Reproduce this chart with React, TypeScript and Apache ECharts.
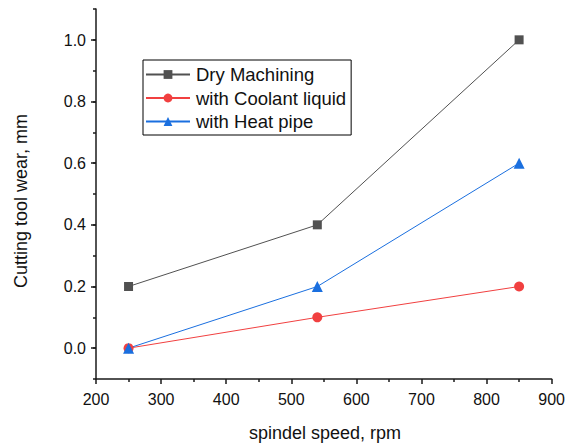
import React, { useEffect, useRef } from "react";
import * as echarts from "echarts";

const speeds = [250, 540, 850];
const dryMachining = [0.2, 0.4, 1.0];
const coolantLiquid = [0.0, 0.1, 0.2];
const heatPipe = [0.0, 0.2, 0.6];
const seriesNames = ["Dry Machining", "with Coolant liquid", "with Heat pipe"];
const xTitle = "spindel speed, rpm";
const yTitle = "Cutting tool wear, mm";

const FONT = "'Liberation Sans', Arial, Helvetica, sans-serif";
const AXIS_COLOR = "#1a1a1a";

export default function App() {
  const ref = useRef<HTMLDivElement>(null);

  useEffect(() => {
    if (!ref.current) return;
    const chart = echarts.init(ref.current, undefined, { renderer: "svg" });
    const pair = (ys: number[]) => speeds.map((x, i) => [x, ys[i]]);

    const option: any = {
      animation: false,
      backgroundColor: "#ffffff",
      textStyle: { fontFamily: FONT },
      grid: [
        { left: 96, right: 14, top: 9, height: 370, containLabel: false },
        { left: 96, right: 14, top: 40, height: 308, containLabel: false },
      ],
      xAxis: [
        {
          type: "value",
          gridIndex: 0,
          min: 200,
          max: 900,
          interval: 100,
          axisLine: { show: true, onZero: false, lineStyle: { color: AXIS_COLOR, width: 1.5 } },
          axisTick: { show: true, inside: false, length: 5, lineStyle: { color: AXIS_COLOR, width: 1.5 } },
          minorTick: { show: true, splitNumber: 2, length: 3, lineStyle: { color: AXIS_COLOR, width: 1.5 } },
          splitLine: { show: false },
          axisLabel: { fontSize: 16, color: "#111", margin: 12, fontFamily: FONT },
        },
        {
          type: "value",
          gridIndex: 1,
          min: 200,
          max: 900,
          show: false,
        },
      ],
      yAxis: [
        {
          type: "value",
          gridIndex: 0,
          min: -0.1,
          max: 1.1,
          interval: 0.1,
          axisLine: { show: true, onZero: false, lineStyle: { color: AXIS_COLOR, width: 1.5 } },
          axisTick: { show: true, inside: false, length: 3, lineStyle: { color: AXIS_COLOR, width: 1.5 } },
          splitLine: { show: false },
          axisLabel: { show: false },
        },
        {
          type: "value",
          gridIndex: 1,
          min: 0,
          max: 1.0,
          interval: 0.2,
          axisLine: { show: false },
          axisTick: { show: true, inside: false, length: 5, lineStyle: { color: AXIS_COLOR, width: 1.5 } },
          splitLine: { show: false },
          axisLabel: {
            fontSize: 16,
            color: "#111",
            margin: 10,
            fontFamily: FONT,
            formatter: (v: number) => v.toFixed(1),
          },
        },
      ],
      legend: {
        orient: "vertical",
        left: 143,
        top: 60,
        data: seriesNames,
        itemWidth: 44,
        itemHeight: 11,
        itemGap: 4.5,
        padding: [5, 5, 4, 2],
        borderColor: "#000",
        borderWidth: 1,
        borderRadius: 0,
        textStyle: { fontSize: 18.5, color: "#111", fontFamily: FONT, padding: [0, 0, 0, 1] },
      },
      series: [
        {
          name: seriesNames[0],
          type: "line",
          xAxisIndex: 0,
          yAxisIndex: 0,
          data: pair(dryMachining),
          symbol: "rect",
          symbolSize: 9,
          itemStyle: { color: "#515151" },
          lineStyle: { color: "#515151", width: 1 },
        },
        {
          name: seriesNames[1],
          type: "line",
          xAxisIndex: 0,
          yAxisIndex: 0,
          data: pair(coolantLiquid),
          symbol: "circle",
          symbolSize: 10,
          itemStyle: { color: "#F14040" },
          lineStyle: { color: "#F14040", width: 1 },
        },
        {
          name: seriesNames[2],
          type: "line",
          xAxisIndex: 0,
          yAxisIndex: 0,
          data: pair(heatPipe),
          symbol: "triangle",
          symbolSize: 11,
          itemStyle: { color: "#1A6FDF" },
          lineStyle: { color: "#1A6FDF", width: 1 },
        },
      ],
      graphic: [
        {
          type: "text",
          x: 325,
          y: 433,
          style: {
            text: xTitle,
            fontSize: 18,
            fontFamily: FONT,
            fill: "#111",
            textAlign: "center",
            textVerticalAlign: "middle",
          },
        },
        {
          type: "text",
          x: 21,
          y: 201,
          rotation: Math.PI / 2,
          style: {
            text: yTitle,
            fontSize: 18,
            fontFamily: FONT,
            fill: "#111",
            textAlign: "center",
            textVerticalAlign: "middle",
          },
        },
      ],
    };

    chart.setOption(option);
    return () => chart.dispose();
  }, []);

  return <div ref={ref} style={{ width: 568, height: 446, position: "absolute", left: 0, top: 0 }} />;
}
